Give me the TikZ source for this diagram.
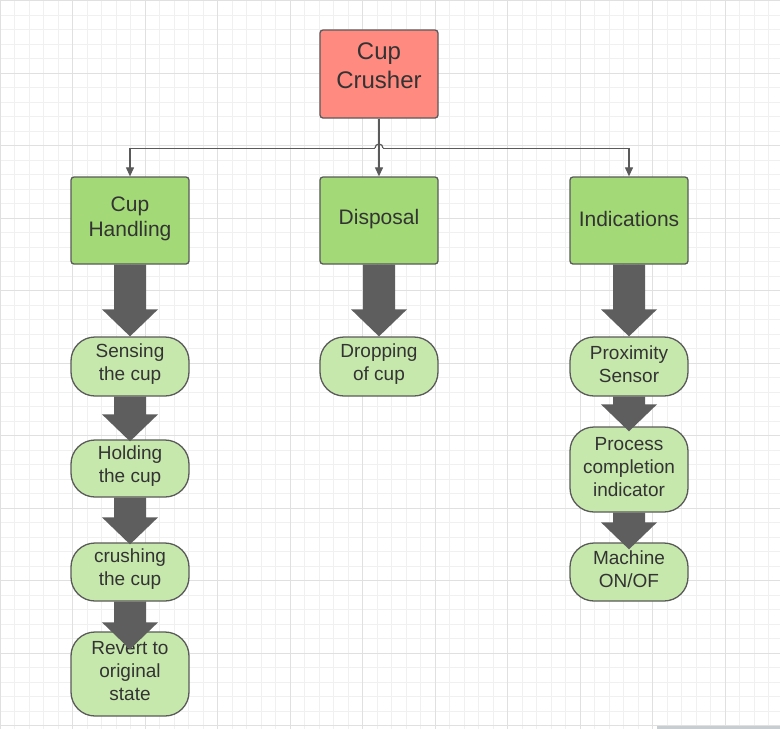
\documentclass[tikz,border=0pt]{standalone}
\usepackage{fontspec}
\setmainfont{Liberation Sans}
\usetikzlibrary{arrows.meta,calc}
\definecolor{gridminor}{HTML}{F0F0F0}
\definecolor{gridmajor}{HTML}{E0E0E0}
\definecolor{bordergray}{HTML}{5A5A5A}
\definecolor{textgray}{HTML}{333333}
\definecolor{crushred}{HTML}{FF8A80}
\definecolor{catgreen}{HTML}{A3D977}
\definecolor{pillgreen}{HTML}{C7E8AC}
\definecolor{conngray}{HTML}{5A5A5A}
\definecolor{arrowgray}{HTML}{5E5E5E}
\definecolor{bargray}{HTML}{C8CDD2}
\newcommand\blockarrow[3]{%
  \fill[bigarrow] ($(#1.south)+(-16,0)$) -- ($(#1.south)+(16,0)$)
    -- ($(#2.north)+(16,#3-27)$) -- ($(#2.north)+(28,#3-27)$)
    -- ($(#2.north)+(0,#3)$) -- ($(#2.north)+(-28,#3-27)$)
    -- ($(#2.north)+(-16,#3-27)$) -- cycle;}
\begin{document}
\begin{tikzpicture}[x=1pt,y=-1pt,
  base/.style={draw=bordergray, line width=1.3pt, inner sep=0pt, minimum width=118pt},
  txt/.style={text=textgray, align=center, inner sep=0pt, font=\fontsize{19}{23}\selectfont},
  toptxt/.style={text=textgray, align=center, inner sep=0pt, font=\fontsize{24}{29}\selectfont, yshift=8pt},
  cattxt/.style={text=textgray, align=center, inner sep=0pt, font=\fontsize{21}{25}\selectfont, yshift=1.5pt},
  pilltxt/.style={txt, yshift=2.5pt},
  topbox/.style={base, fill=crushred, rounded corners=3pt, minimum height=88pt},
  catbox/.style={base, fill=catgreen, rounded corners=3pt, minimum height=87pt},
  pill/.style={base, fill=pillgreen, rounded corners=24pt},
  conn/.style={draw=conngray, line width=1.2pt, -{Triangle[length=9pt,width=8pt]}},
  bigarrow/.style={fill=arrowgray}]
\useasboundingbox (0,0) rectangle (780,729);
\fill[white] (0,0) rectangle (780,729);
% grid
\foreach \i in {0,...,53} \draw[gridminor, line width=0.8pt] (\i*14.5,0) -- (\i*14.5,729);
\foreach \j in {0,...,50} \draw[gridminor, line width=0.8pt] (0,0.5+\j*14.5) -- (780,0.5+\j*14.5);
\foreach \i in {0,...,10} \draw[gridmajor, line width=0.8pt] (\i*72.5,0) -- (\i*72.5,729);
\foreach \j in {0,...,10} \draw[gridmajor, line width=0.8pt] (0,0.5+\j*72.5) -- (780,0.5+\j*72.5);
% nodes
\node[topbox, label={[toptxt]center:{Cup\\Crusher}}] (cc) at (379,74) {};
\node[catbox, label={[cattxt]center:{Cup\\Handling}}] (ch) at (130,220.5) {};
\node[catbox, label={[cattxt]center:{Disposal}}] (dp) at (379,220.5) {};
\node[catbox, label={[cattxt]center:{Indications}}] (in) at (629,220.5) {};
\node[pill, minimum height=59pt, label={[pilltxt]center:{Sensing\\the cup}}] (s1) at (130,366.5) {};
\node[pill, minimum height=57pt, label={[pilltxt]center:{Holding\\the cup}}] (s2) at (130,468.5) {};
\node[pill, minimum height=58pt, label={[pilltxt]center:{crushing\\the cup}}] (s3) at (130,572) {};
\node[pill, minimum height=84pt, label={[pilltxt]center:{Revert to\\original\\state}}] (s4) at (130,674) {};
\node[pill, minimum height=59pt, label={[pilltxt]center:{Dropping\\of cup}}] (d1) at (379,366.5) {};
\node[pill, minimum height=59pt, label={[pilltxt]center:{Proximity\\Sensor}}] (i1) at (629,366.5) {};
\node[pill, minimum height=85pt, label={[pilltxt]center:{Process\\completion\\indicator}}] (i2) at (629,469.5) {};
\node[pill, minimum height=58pt, label={[pilltxt]center:{Machine\\ON/OF}}] (i3) at (629,572) {};
% connectors
\draw[conn] (cc.south) -- ++(0,30) -| (ch.north);
\draw[conn] (cc.south) -- ++(0,30) -| (in.north);
\draw[white, line width=2pt] (375,148) -- (383,148);
\draw[conngray, line width=1.2pt] (375,148) arc[start angle=180, end angle=360, radius=4];
\draw[conn] (cc.south) -- (dp.north);
% block arrows
\blockarrow{ch}{s1}{0}
\blockarrow{s1}{s2}{2}
\blockarrow{s2}{s3}{2}
\blockarrow{s3}{s4}{18}
\blockarrow{dp}{d1}{0}
\blockarrow{in}{i1}{0}
\blockarrow{i1}{i2}{5}
\blockarrow{i2}{i3}{7}
% bottom bar
\fill[bargray] (657,725.5) rectangle (780,729);
\end{tikzpicture}
\end{document}
